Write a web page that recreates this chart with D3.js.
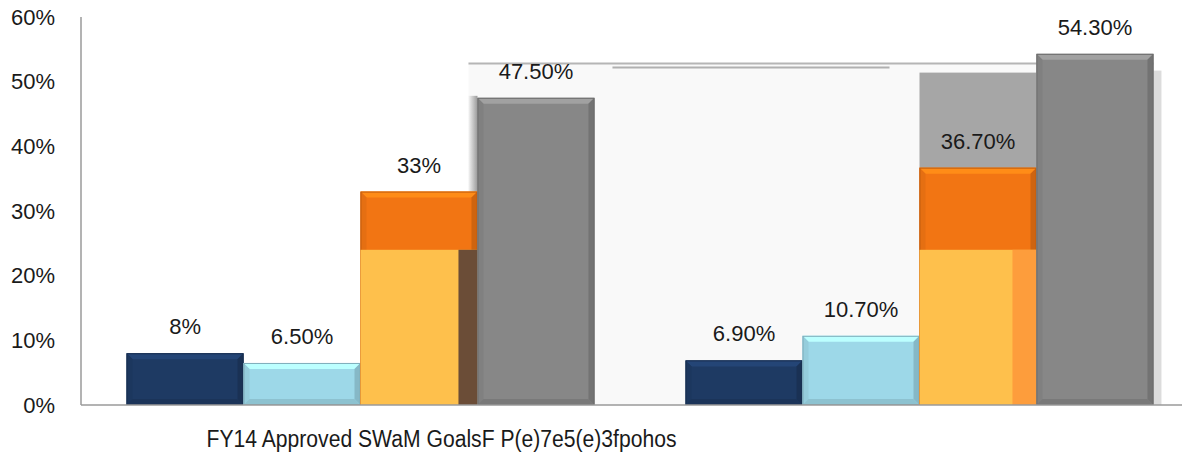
<!DOCTYPE html>
<html>
<head>
<meta charset="utf-8">
<script src="https://cdn.jsdelivr.net/npm/d3@7"></script>
<style>
  html, body { margin: 0; padding: 0; background: #ffffff; }
  svg { display: block; }
  text { font-family: "Liberation Sans", Arial, sans-serif; fill: #1a1a1a; }
</style>
</head>
<body>
<svg id="chart" width="1182" height="454"></svg>
<script>
// ---- data ----
const categories = ["Group A", "Group B"];
const seriesNames = ["Series 1", "Series 2", "Series 3", "Series 4"];
const series1 = [8, 6.9];
const series2 = [6.5, 10.7];
const series3 = [33, 36.7];
const series4 = [47.5, 54.3];
const valueLabels = [
  ["8%", "6.50%", "33%", "47.50%"],
  ["6.90%", "10.70%", "36.70%", "54.30%"]
];
const yTicks = [0, 10, 20, 30, 40, 50, 60];
const xAxisTitle = "FY14 Approved SWaM GoalsF P(e)7e5(e)3fpohos";
const seriesColors = ["#1e3a63", "#9dd8e8", "#f27513", "#878787"];

// decorative levels seen in the picture (percent units)
const lowSplit = 24;     // where orange bars turn yellow
const panelTop = 52.8;
const blockTop = 51.4;

const allSeries = [series1, series2, series3, series4];

const svg = d3.select("#chart");
const y = d3.scaleLinear().domain([0, 60]).range([405, 17]);
const x0 = d3.scaleBand().domain(categories).range([81, 1199]).paddingInner(0.163).paddingOuter(0.0815);
const x1 = d3.scaleBand().domain(seriesNames).range([0, x0.bandwidth()]).padding(0);

// ---- background panel artifacts ----
const g1gray = x0(categories[0]) + x1(seriesNames[3]);
const g2gray = x0(categories[1]) + x1(seriesNames[3]);
const g2orange = x0(categories[1]) + x1(seriesNames[2]);
svg.append("rect")
  .attr("x", g1gray - 9).attr("y", y(panelTop))
  .attr("width", g2gray + x1.bandwidth() - (g1gray - 9))
  .attr("height", y(0) - y(panelTop))
  .attr("fill", "#f9f9f9");
svg.append("line")
  .attr("x1", g1gray - 9).attr("x2", g2gray + x1.bandwidth())
  .attr("y1", y(panelTop)).attr("y2", y(panelTop))
  .attr("stroke", "#b5b5b5").attr("stroke-width", 2);
svg.append("line")
  .attr("x1", g1gray + 135).attr("x2", g2orange - 30)
  .attr("y1", y(panelTop) + 4).attr("y2", y(panelTop) + 4)
  .attr("stroke", "#b0b0b0").attr("stroke-width", 2);
// gray block behind second orange bar
svg.append("rect")
  .attr("x", g2orange).attr("y", y(blockTop))
  .attr("width", x1.bandwidth()).attr("height", y(0) - y(blockTop))
  .attr("fill", "#a6a6a6");
// gray strip left of first gray bar
const stripGrad = svg.append("defs").append("linearGradient").attr("id", "strip")
  .attr("x1", 0).attr("x2", 1).attr("y1", 0).attr("y2", 0);
stripGrad.append("stop").attr("offset", "0%").attr("stop-color", "#f4f4f4");
stripGrad.append("stop").attr("offset", "100%").attr("stop-color", "#9a9a9a");
svg.append("rect")
  .attr("x", g1gray - 9).attr("y", y(series4[0]) - 2)
  .attr("width", 9).attr("height", y(0) - y(series4[0]) + 2)
  .attr("fill", "url(#strip)");
// shadow right of second gray bar
svg.append("rect")
  .attr("x", g2gray + x1.bandwidth()).attr("y", y(blockTop) - 2)
  .attr("width", 8).attr("height", y(0) - y(blockTop) + 2)
  .attr("fill", "#dcdcdc");

// ---- axes ----
svg.append("line")
  .attr("x1", 81).attr("x2", 81).attr("y1", y(60)).attr("y2", y(0))
  .attr("stroke", "#9a9a9a").attr("stroke-width", 1.5);

const yAxis = svg.append("g").attr("transform", "translate(81,0)")
  .call(d3.axisLeft(y).tickValues(yTicks).tickFormat(d => d + "%").tickSize(0).tickPadding(26));
yAxis.select(".domain").remove();
yAxis.selectAll("text").style("font-size", "22px").attr("fill", "#1a1a1a")
  .style("font-family", "'Liberation Sans', Arial, sans-serif");

// ---- bars ----
function bevelBar(g, bx, by, w, h, color) {
  const b = Math.min(6, h / 2);
  const c = d3.color(color);
  g.append("rect").attr("x", bx).attr("y", by).attr("width", w).attr("height", h).attr("fill", color);
  const poly = (pts, fill) => g.append("polygon").attr("points", pts.map(p => p.join(",")).join(" ")).attr("fill", fill);
  poly([[bx, by], [bx + w, by], [bx + w - b, by + b], [bx + b, by + b]], c.brighter(0.5).formatHex());
  poly([[bx, by], [bx + b, by + b], [bx + b, by + h - b], [bx, by + h]], c.darker(0.15).formatHex());
  poly([[bx + w, by], [bx + w - b, by + b], [bx + w - b, by + h - b], [bx + w, by + h]], c.darker(0.45).formatHex());
  poly([[bx, by + h], [bx + b, by + h - b], [bx + w - b, by + h - b], [bx + w, by + h]], c.darker(0.3).formatHex());
  g.append("rect").attr("x", bx + 0.5).attr("y", by + 0.5).attr("width", w - 1).attr("height", h - 1)
    .attr("fill", "none").attr("stroke", c.darker(0.6).formatHex()).attr("stroke-width", 1);
}

const barsG = svg.append("g");
categories.forEach((cat, ci) => {
  allSeries.forEach((s, si) => {
    const bx = x0(cat) + x1(seriesNames[si]);
    const w = x1.bandwidth();
    const v = s[ci];
    bevelBar(barsG, bx, y(v), w, y(0) - y(v), seriesColors[si]);
    if (si === 2) {
      // lower yellow section of orange bars
      barsG.append("rect").attr("x", bx).attr("y", y(lowSplit))
        .attr("width", w).attr("height", y(0) - y(lowSplit)).attr("fill", "#fec04c");
      const sw = ci === 0 ? 19 : 24;
      barsG.append("rect").attr("x", bx + w - sw).attr("y", y(lowSplit))
        .attr("width", sw).attr("height", y(0) - y(lowSplit))
        .attr("fill", ci === 0 ? "#6b4d37" : "#fd9d3c");
    }
    svg.append("text")
      .attr("x", bx + w / 2).attr("y", y(v) - 19)
      .attr("text-anchor", "middle")
      .style("font-size", "22px")
      .text(valueLabels[ci][si]);
  });
});

// baseline
svg.append("line")
  .attr("x1", 81).attr("x2", 1182).attr("y1", y(0)).attr("y2", y(0))
  .attr("stroke", "#9a9a9a").attr("stroke-width", 1.5);

// x axis title
svg.append("text")
  .attr("x", x0(categories[0]) + 80).attr("y", 447)
  .attr("text-anchor", "start")
  .attr("textLength", 470).attr("lengthAdjust", "spacingAndGlyphs")
  .style("font-size", "23px")
  .text(xAxisTitle);
</script>
</body>
</html>
